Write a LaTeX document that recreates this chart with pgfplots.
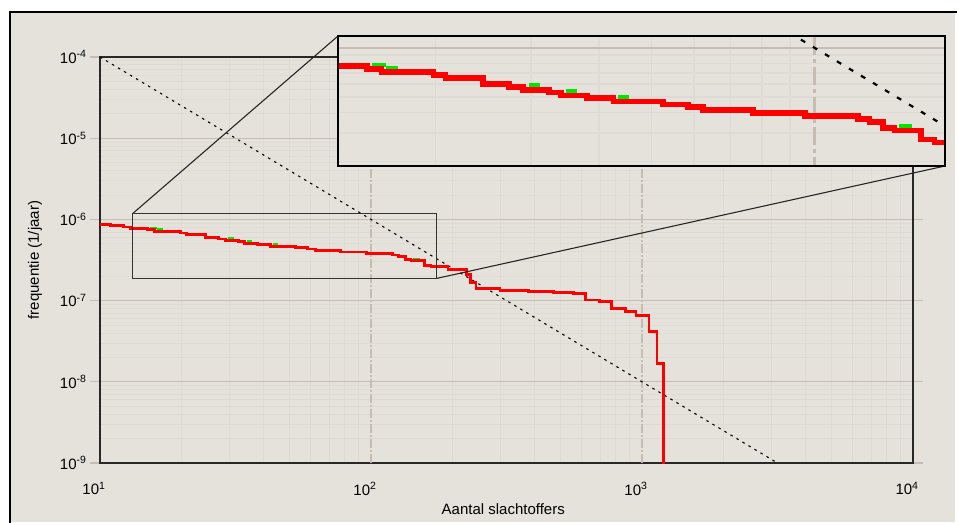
\documentclass[border=0pt]{standalone}
\usepackage{fontspec}
\setmainfont{Liberation Sans}
\usepackage{pgfplots}
\usepackage{pgfplotstable}
\pgfplotsset{compat=1.18}
\usetikzlibrary{spy}
\definecolor{bg}{RGB}{229,226,220}
\definecolor{gridmaj}{RGB}{198,188,178}
\definecolor{gridmin}{RGB}{222,219,213}
\definecolor{axline}{RGB}{40,40,40}
\definecolor{grn}{RGB}{0,230,0}

\pgfplotstableread{
x y
10 8.70e-7
10.95 8.36e-7
12.19 8.06e-7
12.98 7.71e-7
14.95 7.43e-7
15.89 7.07e-7
19.83 6.81e-7
20.84 6.52e-7
24.45 6.01e-7
27.31 5.75e-7
28.97 5.51e-7
32.39 5.30e-7
34.04 5.08e-7
38.01 4.89e-7
42.56 4.68e-7
52.48 4.48e-7
58.50 4.31e-7
62.33 4.13e-7
77.04 3.96e-7
95.94 3.81e-7
120.3 3.65e-7
126.4 3.49e-7
133.7 3.22e-7
140.5 3.09e-7
157.4 2.72e-7
166.5 2.61e-7
192.3 2.40e-7
225.5 2.08e-7
233.3 1.69e-7
244.1 1.40e-7
299.2 1.34e-7
380.5 1.30e-7
470.7 1.25e-7
557.8 1.21e-7
618.7 1.02e-7
695.9 9.68e-8
773.1 8.03e-8
869 7.29e-8
950.4 6.59e-8
1061 4.19e-8
1136 1.69e-8
1199 5e-10
}\reddata

\pgfplotstableread{
x y
15.29 7.82e-7
16.23 7.82e-7
16.23 nan
16.23 7.53e-7
17.05 7.53e-7
17.05 nan
29.72 5.87e-7
31.18 5.87e-7
31.18 nan
34.82 5.41e-7
36.52 5.41e-7
36.52 nan
43.41 4.98e-7
45.54 4.98e-7
45.54 nan
143.1 3.28e-7
151.5 3.28e-7
}\grndata

\pgfplotstableread{
x y
10 1e-4
3162.3 1e-9
}\fnline

\newcommand{\lblfont}{\fontsize{15}{18}\selectfont}

\begin{document}
\begin{tikzpicture}[
  spy using outlines={rectangle, magnification=2, width=607pt, height=130pt,
    every spy on node/.append style={draw=black!80, line width=1.4pt},
    every spy in node/.append style={draw=black, line width=2.6pt}}]
\useasboundingbox (0pt,0pt) rectangle (958pt,522pt);
\fill[white] (0pt,0pt) rectangle (958pt,522pt);
\fill[bg] (10pt,0pt) rectangle (955pt,510pt);
\draw[black,line width=2pt] (10pt,-5pt) -- (10pt,510pt) -- (957pt,510pt);

\begin{axis}[
  at={(100pt,59pt)}, anchor=south west,
  scale only axis, width=813pt, height=406pt,
  xmode=log, ymode=log,
  xmin=10, xmax=10000, ymin=1e-9, ymax=1e-4,
  axis background/.style={fill=bg},
  axis line style={axline, line width=1.5pt},
  xtick={10,100,1000,10000},
  xticklabels={10\textsuperscript{1},10\textsuperscript{2},10\textsuperscript{3},10\textsuperscript{4}},
  ytick={1e-9,1e-8,1e-7,1e-6,1e-5,1e-4},
  yticklabels={10\textsuperscript{-9},10\textsuperscript{-8},10\textsuperscript{-7},10\textsuperscript{-6},10\textsuperscript{-5},10\textsuperscript{-4}},
  minor xtick={20,30,40,50,60,70,80,90,200,300,400,500,600,700,800,900,2000,3000,4000,5000,6000,7000,8000,9000},
  minor ytick={2e-9,3e-9,4e-9,5e-9,6e-9,7e-9,8e-9,9e-9,2e-8,3e-8,4e-8,5e-8,6e-8,7e-8,8e-8,9e-8,2e-7,3e-7,4e-7,5e-7,6e-7,7e-7,8e-7,9e-7,2e-6,3e-6,4e-6,5e-6,6e-6,7e-6,8e-6,9e-6,2e-5,3e-5,4e-5,5e-5,6e-5,7e-5,8e-5,9e-5},
  xminorgrids=true, ymajorgrids=true, yminorgrids=true,
  major grid style={gridmaj, line width=1.2pt},
  minor grid style={gridmin, line width=0.8pt},
  tick align=outside,
  major tick length=10pt, minor tick length=0pt,
  xtick style={draw=none},
  ytick style={gridmaj, line width=1.2pt},
  ticklabel style={font=\lblfont},
  xticklabel style={anchor=north, yshift=-6pt, xshift=-6pt},
  yticklabel style={anchor=east},
  xlabel={Aantal slachtoffers},
  ylabel={frequentie (1/jaar)},
  label style={font=\lblfont},
  xlabel style={at={(axis description cs:0.496,-0.113)}, anchor=center},
  ylabel style={at={(axis description cs:-0.08,0.5)}, anchor=center},
  clip=true,
]
\draw[gridmaj, line width=1.2pt, dash pattern=on 9pt off 2pt on 2pt off 2pt] (axis cs:100,1e-9) -- (axis cs:100,1e-4);
\draw[gridmaj, line width=1.2pt, dash pattern=on 9pt off 2pt on 2pt off 2pt] (axis cs:1000,1e-9) -- (axis cs:1000,1e-4);
\addplot[black, line width=1.1pt, dash pattern=on 2.5pt off 4.5pt] table[x=x,y=y] {\fnline};
\addplot[grn, line width=2.2pt, unbounded coords=jump] table[x=x,y=y] {\grndata};
\addplot[red, line width=2.8pt, const plot mark left] table[x=x,y=y] {\reddata};
\end{axis}

\spy on (284.5pt,276pt) in node at (641.5pt,421pt);
\draw[black!85, line width=1.1pt] (132.75pt,308.5pt) -- (338pt,486pt);
\draw[black!85, line width=1.1pt] (436.25pt,243.5pt) -- (945pt,356pt);
\end{tikzpicture}
\end{document}
